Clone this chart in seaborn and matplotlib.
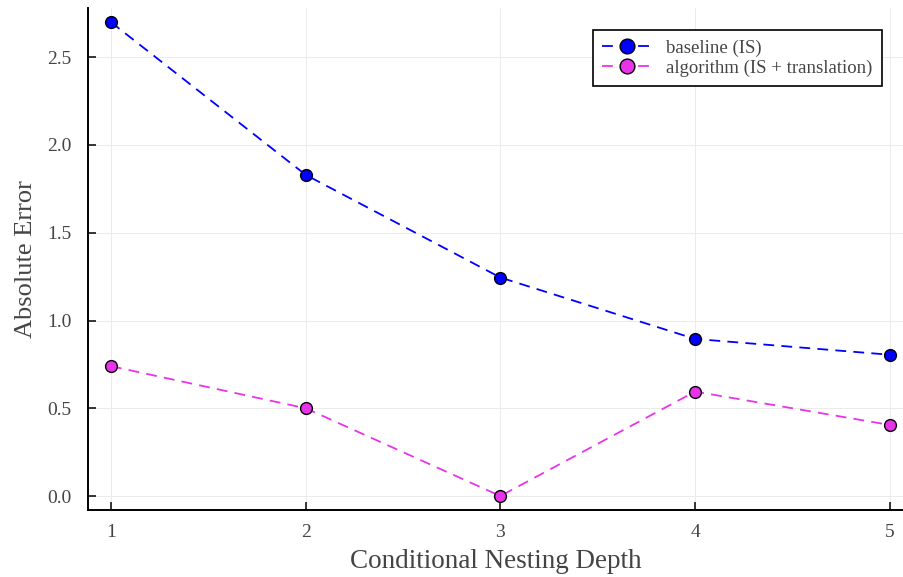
import numpy as np
import pandas as pd
import seaborn as sns
import matplotlib.pyplot as plt

# -----------------------------
# Data
# -----------------------------
depth = [1, 2, 3, 4, 5]
baseline = [2.70, 1.83, 1.245, 0.895, 0.805]
algorithm = [0.74, 0.50, 0.0, 0.595, 0.405]
labels = ["baseline (IS)", "algorithm (IS + translation)"]
colors = ["#0000ff", "#e834e8"]

df = pd.DataFrame({
    "depth": depth * 2,
    "error": baseline + algorithm,
    "method": [labels[0]] * len(depth) + [labels[1]] * len(depth),
})

# -----------------------------
# Plot
# -----------------------------
sns.set_style("white")
plt.rcParams["font.family"] = ["Liberation Serif", "DejaVu Serif"]

fig = plt.figure(figsize=(9.04, 5.77), dpi=100)
ax = fig.add_axes([0.0973, 0.116, 0.902, 0.870])

sns.lineplot(
    data=df, x="depth", y="error", hue="method", palette=colors,
    marker="o", markersize=8.5, markeredgecolor="black", markeredgewidth=1.0,
    linestyle=(0, (6, 4)), linewidth=1.3, ax=ax,
)

ax.set_xlim(0.882, 5.07)
ax.set_ylim(-0.08, 2.78)
ax.set_xticks([1, 2, 3, 4, 5])
ax.set_yticks([0.0, 0.5, 1.0, 1.5, 2.0, 2.5])
ax.set_yticklabels(["0.0", "0.5", "1.0", "1.5", "2.0", "2.5"])
ax.grid(True, color="#ebebeb", linewidth=0.7)
ax.tick_params(axis="both", direction="in", length=6, width=1.1, labelsize=14,
               labelcolor="#444444", color="black", bottom=True, left=True)
ax.tick_params(axis="y", pad=12)
ax.tick_params(axis="x", pad=10)
for s in ["top", "right"]:
    ax.spines[s].set_visible(False)
for s in ["left", "bottom"]:
    ax.spines[s].set_color("black")
    ax.spines[s].set_linewidth(1.4)

ax.set_xlabel("Conditional Nesting Depth", fontsize=19.5, color="#444444", labelpad=6)
ax.set_ylabel("Absolute Error", fontsize=19, color="#444444", labelpad=7)

leg = ax.legend(loc="upper right", bbox_to_anchor=(0.985, 0.975), fontsize=13.5,
                fancybox=False, framealpha=1, edgecolor="black", markerscale=1.25,
                handlelength=2.6, borderpad=0.5, labelspacing=0.15)
leg.get_frame().set_linewidth(1.2)
for t in leg.get_texts():
    t.set_color("#444444")

plt.savefig("out.png", dpi=100)
